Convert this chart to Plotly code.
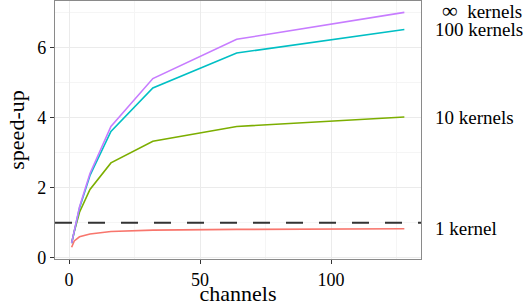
import plotly.graph_objects as go

channels = [1, 2, 4, 8, 16, 32, 64, 128]
speedup_inf = [0.42, 0.78, 1.45, 2.41, 3.75, 5.12, 6.24, 7.01]
speedup_100 = [0.42, 0.77, 1.42, 2.35, 3.61, 4.85, 5.85, 6.52]
speedup_10 = [0.42, 0.75, 1.30, 1.95, 2.71, 3.33, 3.75, 4.02]
speedup_1 = [0.30, 0.48, 0.60, 0.68, 0.75, 0.79, 0.81, 0.83]

series_names = ["1 kernel", "10 kernels", "100 kernels", "∞ kernels"]
series_values = [speedup_1, speedup_10, speedup_100, speedup_inf]
series_colors = ["#F8766D", "#7CAE00", "#00BFC4", "#C77CFF"]
label_texts = ["1 kernel", "10 kernels", "100 kernels",
               "<span style='font-size:22px'>∞</span>\u00a0\u00a0kernels"]
label_y = [0.83, 4.02, 6.52, 7.07]
reference_speedup = 1.0

FONT = "Liberation Serif"

fig = go.Figure()
for name, vals, col in zip(series_names, series_values, series_colors):
    fig.add_trace(go.Scatter(x=channels, y=vals, mode="lines", name=name,
                             line=dict(color=col, width=1.6), showlegend=False))

fig.add_shape(type="line", xref="paper", yref="y", x0=0, x1=1,
              y0=reference_speedup, y1=reference_speedup,
              line=dict(color="#333333", width=1.8, dash="17px,16px"))

for txt, yv in zip(label_texts, label_y):
    fig.add_annotation(xref="paper", yref="y", x=1, y=yv, text=txt,
                       showarrow=False, xanchor="left", yanchor="middle",
                       xshift=12 if not txt.startswith("<span") else 19,
                       font=dict(family=FONT, size=19, color="black"))

axis_common = dict(
    showgrid=True, gridcolor="#EBEBEB", gridwidth=1,
    minor=dict(showgrid=True, gridcolor="#F5F5F5", gridwidth=0.6),
    showline=True, linecolor="#8a8a8a", linewidth=1.4, mirror=True,
    ticks="outside", ticklen=4, tickwidth=1.3, tickcolor="#333333",
    zeroline=False, automargin=False,
    tickfont=dict(family=FONT, size=18, color="black"),
)

fig.update_xaxes(range=[-5.35, 134.35], tickvals=[0, 50, 100],
                 minor_tickvals=[25, 75, 125],
                 title=dict(text="channels", font=dict(family=FONT, size=22, color="black"),
                            standoff=0),
                 **axis_common)
fig.update_yaxes(range=[-0.035, 7.335], tickvals=[0, 2, 4, 6],
                 minor_tickvals=[1, 3, 5, 7],
                 title=dict(text="speed-up", font=dict(family=FONT, size=22, color="black"),
                            standoff=6),
                 **axis_common)

fig.update_layout(
    width=526, height=306,
    margin=dict(l=55, r=105, t=1, b=47),
    plot_bgcolor="white", paper_bgcolor="white",
    font=dict(family=FONT, color="black"),
)

fig.write_html("out.html", config={"displayModeBar": False},
               post_script="document.body.style.margin='0';document.body.style.overflow='hidden';")
